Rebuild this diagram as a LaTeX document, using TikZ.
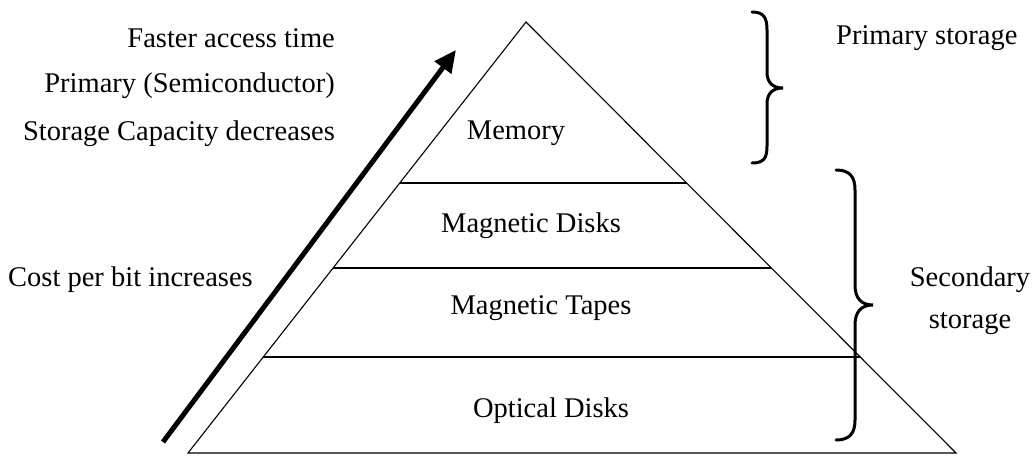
\documentclass[tikz,border=0pt]{standalone}
\usepackage{fontspec}
\setmainfont{Liberation Serif}
\usetikzlibrary{calc,arrows.meta}
\begin{document}
\begin{tikzpicture}[x=1pt,y=-1pt,
  lbl/.style={inner sep=0pt,font=\fontsize{28.5}{32}\selectfont},
  edge/.style={line width=1.1pt},
  brc/.style={line width=3pt,line cap=round},
  bigarrow/.style={line width=5pt,-{Triangle[length=22pt,width=20pt]}}]
\useasboundingbox (0,0) rectangle (1033,455);
% pyramid
\coordinate (apex) at (526,22);
\coordinate (bl) at (188,453);
\coordinate (br) at (956,453);
\draw[edge] (apex) -- (bl) -- (br) -- cycle;
\coordinate (l1) at ($(apex)!0.3735!(bl)$);
\coordinate (r1) at ($(apex)!0.3735!(br)$);
\coordinate (l2) at ($(apex)!0.5708!(bl)$);
\coordinate (r2) at ($(apex)!0.5708!(br)$);
\coordinate (l3) at ($(apex)!0.7773!(bl)$);
\coordinate (r3) at ($(apex)!0.7773!(br)$);
\draw[edge] (l1) -- (r1);
\draw[edge] (l2) -- (r2);
\draw[edge] (l3) -- (r3);
% layer labels
\node[lbl] (mem) at (516,133) {Memory};
\node[lbl] (mdisk) at (531,226) {Magnetic Disks};
\node[lbl] (mtape) at (541,308) {Magnetic Tapes};
\node[lbl] (opt) at (551,411) {Optical Disks};
% left labels
\node[lbl,anchor=east] (fast) at (335,38) {Faster access time};
\node[lbl,anchor=east] (prim) at (335,86) {Primary (Semiconductor)};
\node[lbl,anchor=east] (stor) at (335,134) {Storage Capacity decreases};
\node[lbl,anchor=west] (cost) at (8,280) {Cost per bit increases};
% arrow
\coordinate (arS) at (163,442);
\coordinate (arE) at (456,50);
\draw[bigarrow] (arS) -- (arE);
% right labels
\node[lbl,anchor=west] (pst) at (836,38) {Primary storage};
\node[lbl] (sec) at (970,280) {Secondary};
\node[lbl] (sst) at (970,324) {storage};
% primary brace
\coordinate (pb1) at (752,12);
\coordinate (pbm) at (783,88);
\coordinate (pb2) at (752,163);
\draw[brc] (pb1) .. controls (764,12) and (767,18) .. (767,30)
  -- (767,72) .. controls (767,82) and (772,88) .. (pbm)
  .. controls (772,88) and (767,94) .. (767,104)
  -- (767,146) .. controls (767,158) and (764,163) .. (pb2);
% secondary brace
\coordinate (sb1) at (836,170);
\coordinate (sbm) at (873,305);
\coordinate (sb2) at (836,440);
\draw[brc] (sb1) .. controls (850,170) and (855,177) .. (855,190)
  -- (855,285) .. controls (855,298) and (861,305) .. (sbm)
  .. controls (861,305) and (855,312) .. (855,325)
  -- (855,420) .. controls (855,433) and (850,440) .. (sb2);
\end{tikzpicture}
\end{document}
